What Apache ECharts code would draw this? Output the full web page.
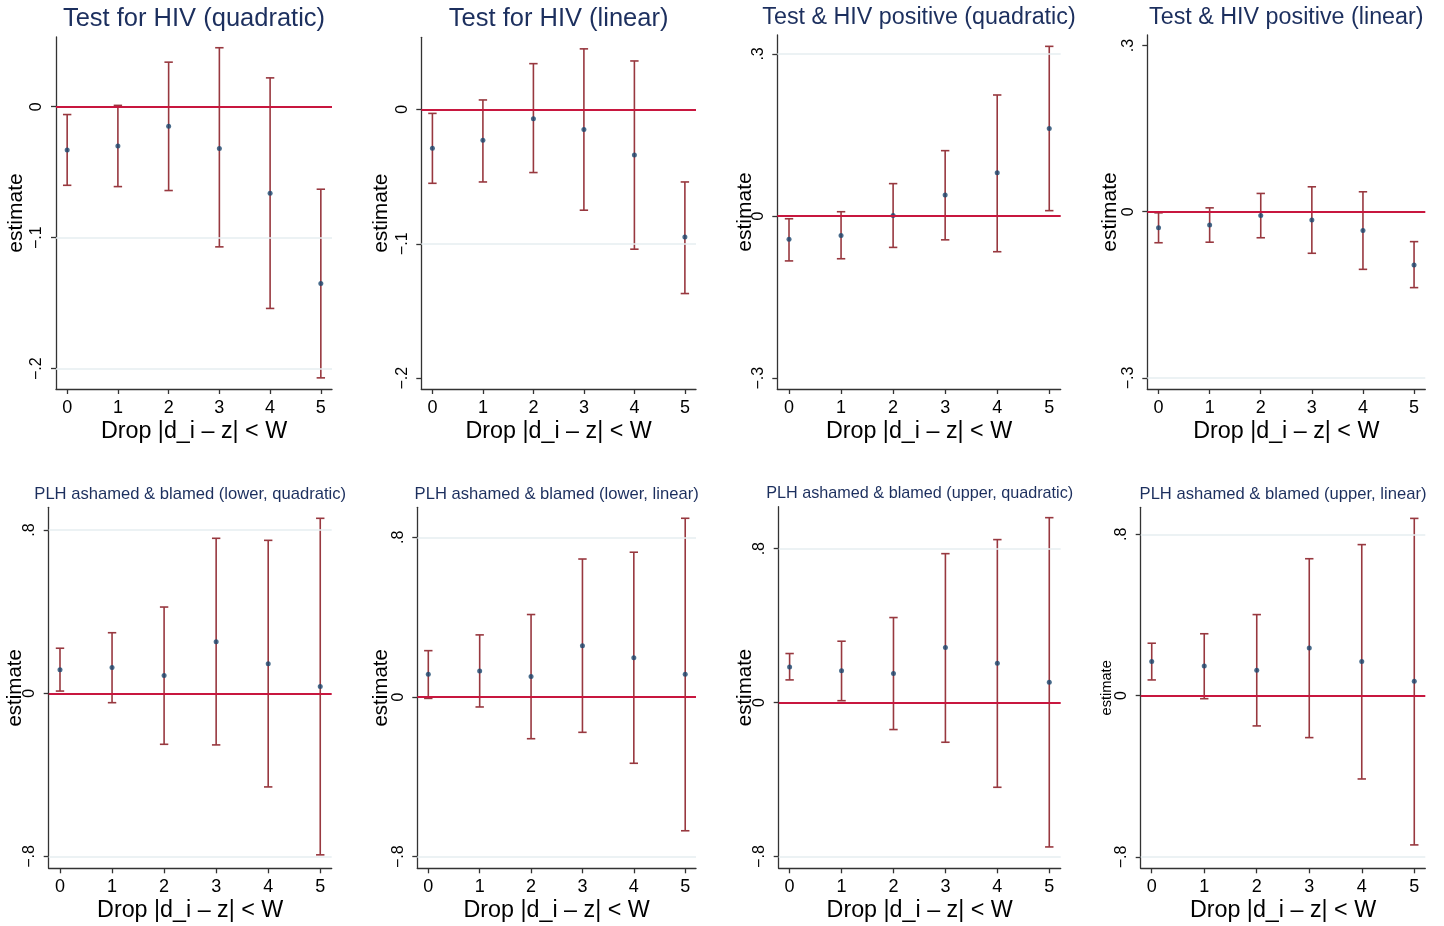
<!DOCTYPE html>
<html>
<head>
<meta charset="utf-8">
<script src="https://cdn.jsdelivr.net/npm/echarts@6.0.0/dist/echarts.min.js"></script>
<style>
html,body{margin:0;padding:0;background:#fff;}
#chart{width:1444px;height:926px;}
</style>
</head>
<body>
<div id="chart"></div>
<script>
// ---------- data ----------
const xVals = [0, 1, 2, 3, 4, 5];
const xTitle = 'Drop |d_i \u2013 z| < W';
const yTitle = 'estimate';
const titles = [
  'Test for HIV (quadratic)',
  'Test for HIV (linear)',
  'Test & HIV positive (quadratic)',
  'Test & HIV positive (linear)',
  'PLH ashamed & blamed (lower, quadratic)',
  'PLH ashamed & blamed (lower, linear)',
  'PLH ashamed & blamed (upper, quadratic)',
  'PLH ashamed & blamed (upper, linear)'
];

const p1Est = [-0.033, -0.030, -0.015, -0.032, -0.066, -0.135];
const p1Lo  = [-0.060, -0.061, -0.064, -0.107, -0.154, -0.207];
const p1Hi  = [-0.006,  0.001,  0.034,  0.045,  0.022, -0.063];

const p2Est = [-0.029, -0.023, -0.007, -0.015, -0.034, -0.095];
const p2Lo  = [-0.055, -0.054, -0.047, -0.075, -0.104, -0.137];
const p2Hi  = [-0.003,  0.007,  0.034,  0.045,  0.036, -0.054];

const p3Est = [-0.043, -0.036, 0.001, 0.039, 0.080, 0.162];
const p3Lo  = [-0.083, -0.079, -0.058, -0.044, -0.066, 0.010];
const p3Hi  = [-0.005,  0.008,  0.060,  0.121,  0.224, 0.314];

const p4Est = [-0.029, -0.024, -0.007, -0.015, -0.034, -0.096];
const p4Lo  = [-0.056, -0.055, -0.047, -0.075, -0.104, -0.137];
const p4Hi  = [-0.002,  0.007,  0.033,  0.045,  0.036, -0.054];

const p5Est = [0.116,  0.126,  0.087,  0.253,  0.145,  0.033];
const p5Lo  = [0.011, -0.046, -0.250, -0.253, -0.459, -0.792];
const p5Hi  = [0.221,  0.297,  0.423,  0.760,  0.750,  0.858];

const p6Est = [ 0.114,  0.130,  0.102,  0.257,  0.197,  0.114];
const p6Lo  = [-0.007, -0.050, -0.209, -0.177, -0.332, -0.670];
const p6Hi  = [ 0.232,  0.311,  0.413,  0.691,  0.725,  0.895];

const p7Est = [0.185, 0.165,  0.151,  0.286,  0.204,  0.106];
const p7Lo  = [0.118, 0.010, -0.140, -0.206, -0.440, -0.750];
const p7Hi  = [0.255, 0.319,  0.442,  0.774,  0.847,  0.961];

const p8Est = [0.169,  0.147,  0.126,  0.236,  0.169,  0.071];
const p8Lo  = [0.078, -0.015, -0.150, -0.208, -0.413, -0.740];
const p8Hi  = [0.260,  0.307,  0.402,  0.679,  0.749,  0.879];

const p1Ticks = [-0.2, -0.1, 0];
const p2Ticks = [-0.2, -0.1, 0];
const p3Ticks = [-0.3, 0, 0.3];
const p4Ticks = [-0.3, 0, 0.3];
const p5Ticks = [-0.8, 0, 0.8];
const p6Ticks = [-0.8, 0, 0.8];
const p7Ticks = [-0.8, 0, 0.8];
const p8Ticks = [-0.8, 0, 0.8];

const p1Grid = [-0.1, -0.2];
const p2Grid = [-0.1];
const p3Grid = [0.3];
const p4Grid = [-0.3];
const p5Grid = [-0.8, 0.8];
const p6Grid = [-0.8, 0.8];
const p7Grid = [-0.8, 0.8];
const p8Grid = [-0.8, 0.8];

const zeroLine = 0;

// ---------- layout / style ----------
const panels = [
  {est:p1Est, lo:p1Lo, hi:p1Hi, ticks:p1Ticks, grid:p1Grid},
  {est:p2Est, lo:p2Lo, hi:p2Hi, ticks:p2Ticks, grid:p2Grid},
  {est:p3Est, lo:p3Lo, hi:p3Hi, ticks:p3Ticks, grid:p3Grid},
  {est:p4Est, lo:p4Lo, hi:p4Hi, ticks:p4Ticks, grid:p4Grid},
  {est:p5Est, lo:p5Lo, hi:p5Hi, ticks:p5Ticks, grid:p5Grid},
  {est:p6Est, lo:p6Lo, hi:p6Hi, ticks:p6Ticks, grid:p6Grid},
  {est:p7Est, lo:p7Lo, hi:p7Hi, ticks:p7Ticks, grid:p7Grid},
  {est:p8Est, lo:p8Lo, hi:p8Hi, ticks:p8Ticks, grid:p8Grid}
];
const layout = [
  {l:56,    t:37,    w:276,   h:352,   xmin:-0.22, xmax:5.22, ymin:-0.2155, ymax:0.0532, titleTop:6,   titleSize:25.5, nameGap:28.8, nameSize:21},
  {l:421.3, t:37.3,  w:274.7, h:351.7, xmin:-0.22, xmax:5.22, ymin:-0.208,  ymax:0.0536, titleTop:6,   titleSize:25.5, nameGap:29.1, nameSize:21},
  {l:777.3, t:35,    w:283.4, h:354,   xmin:-0.225,xmax:5.22, ymin:-0.320,  ymax:0.335,  titleTop:6,   titleSize:23.3, nameGap:21.3, nameSize:21},
  {l:1147.3,t:35,    w:278,   h:354,   xmin:-0.22, xmax:5.22, ymin:-0.320,  ymax:0.319,  titleTop:6,   titleSize:23.3, nameGap:26.8, nameSize:21},
  {l:48.7,  t:507.3, w:283,   h:361,   xmin:-0.217,xmax:5.22, ymin:-0.858,  ymax:0.912,  titleTop:486, titleSize:16.6, nameGap:22.6, nameSize:20.5},
  {l:417.3, t:507.3, w:278.7, h:361,   xmin:-0.214,xmax:5.21, ymin:-0.858,  ymax:0.950,  titleTop:486, titleSize:16.6, nameGap:25.3, nameSize:20.5},
  {l:778.7, t:506.7, w:282,   h:361.6, xmin:-0.21, xmax:5.22, ymin:-0.861,  ymax:1.018,  titleTop:486, titleSize:16.2, nameGap:22.9, nameSize:20.5},
  {l:1140.7,t:507.3, w:284.6, h:361,   xmin:-0.21, xmax:5.21, ymin:-0.856,  ymax:0.934,  titleTop:486, titleSize:16.6, nameGap:26.4, nameSize:14.6}
];

const FONT = '"Liberation Sans", Arial, Helvetica, sans-serif';
const TITLE_COLOR = '#1c2f5e';
const BAR_COLOR = '#98383f';
const ZERO_COLOR = '#c8173f';
const PT_COLOR = '#1a476f';
const GRID_COLOR = '#e6eef1';
const AXIS_COLOR = '#333';

function fmtTick(v) {
  if (Math.abs(v) < 1e-12) return '0';
  const s = String(Math.abs(v)).replace(/^0/, '');
  return (v < 0 ? '\u2212' : '') + s;
}

const option = {
  backgroundColor: '#fff',
  animation: false,
  title: [], grid: [], xAxis: [], yAxis: [], series: []
};

panels.forEach((p, i) => {
  const L = layout[i];
  option.title.push({
    text: titles[i],
    left: L.l + L.w / 2,
    top: L.titleTop,
    textAlign: 'center',
    padding: 0,
    textStyle: {fontFamily: FONT, fontWeight: 'normal', fontSize: L.titleSize, color: TITLE_COLOR}
  });
  option.grid.push({left: L.l, top: L.t, width: L.w, height: L.h, containLabel: false});
  option.xAxis.push({
    type: 'value', gridIndex: i, min: L.xmin, max: L.xmax,
    name: xTitle, nameLocation: 'middle', nameGap: 31, nameMoveOverlap: false,
    nameTextStyle: {fontFamily: FONT, fontSize: 23.3, color: '#000'},
    axisLine: {show: true, onZero: false, lineStyle: {color: AXIS_COLOR, width: 1.3}},
    axisTick: {show: true, length: 5, customValues: xVals, lineStyle: {color: AXIS_COLOR, width: 1.3}},
    axisLabel: {show: true, customValues: xVals, margin: 10, fontFamily: FONT, fontSize: 18, color: '#000',
      formatter: v => String(v)},
    splitLine: {show: false}
  });
  option.yAxis.push({
    type: 'value', gridIndex: i, min: L.ymin, max: L.ymax,
    name: yTitle, nameLocation: 'middle', nameGap: L.nameGap, nameMoveOverlap: false,
    nameTextStyle: {fontFamily: FONT, fontSize: L.nameSize, color: '#000'},
    axisLine: {show: true, onZero: false, lineStyle: {color: AXIS_COLOR, width: 1.3}},
    axisTick: {show: true, length: 5, customValues: p.ticks, lineStyle: {color: AXIS_COLOR, width: 1.3}},
    axisLabel: {show: true, customValues: p.ticks, rotate: 90, margin: 11, fontFamily: FONT, fontSize: 16, color: '#000',
      formatter: fmtTick},
    splitLine: {show: false}
  });
  // grid lines
  option.series.push({
    type: 'line', xAxisIndex: i, yAxisIndex: i, data: [], z: 1, silent: true,
    markLine: {
      silent: true, symbol: ['none', 'none'], label: {show: false},
      lineStyle: {color: GRID_COLOR, width: 1.5, type: 'solid'},
      emphasis: {disabled: true},
      data: p.grid.map(g => ({yAxis: g}))
    }
  });
  // zero line
  option.series.push({
    type: 'line', xAxisIndex: i, yAxisIndex: i, data: [], z: 2, silent: true,
    markLine: {
      silent: true, symbol: ['none', 'none'], label: {show: false},
      lineStyle: {color: ZERO_COLOR, width: 1.8, type: 'solid'},
      emphasis: {disabled: true},
      data: [{yAxis: zeroLine}]
    }
  });
  // error bars
  option.series.push({
    type: 'custom', xAxisIndex: i, yAxisIndex: i, z: 3, silent: true,
    encode: {x: 0, y: [1, 2]},
    data: xVals.map((x, k) => [x, p.lo[k], p.hi[k]]),
    renderItem: function (params, api) {
      const x = api.value(0);
      const a = api.coord([x, api.value(1)]);
      const b = api.coord([x, api.value(2)]);
      const hw = 4.2;
      const st = {stroke: BAR_COLOR, lineWidth: 1.6, fill: null};
      return {type: 'group', children: [
        {type: 'line', shape: {x1: a[0], y1: a[1], x2: b[0], y2: b[1]}, style: st},
        {type: 'line', shape: {x1: a[0] - hw, y1: a[1], x2: a[0] + hw, y2: a[1]}, style: st},
        {type: 'line', shape: {x1: b[0] - hw, y1: b[1], x2: b[0] + hw, y2: b[1]}, style: st}
      ]};
    }
  });
  // point estimates
  option.series.push({
    type: 'scatter', xAxisIndex: i, yAxisIndex: i, z: 4, silent: true,
    symbol: 'circle', symbolSize: 5,
    itemStyle: {color: PT_COLOR},
    data: xVals.map((x, k) => [x, p.est[k]])
  });
});

const chart = echarts.init(document.getElementById('chart'), null, {renderer: 'canvas'});
chart.setOption(option);
</script>
</body>
</html>
